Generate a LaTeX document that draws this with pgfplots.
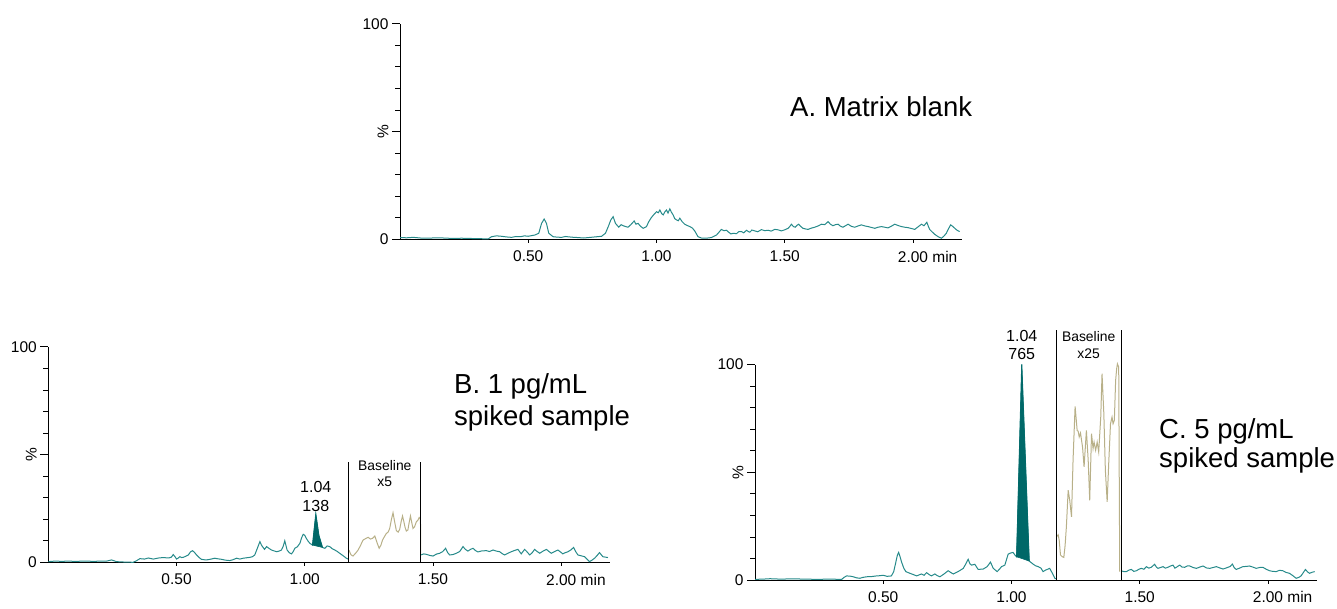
\documentclass[border=0pt]{standalone}
\usepackage{graphicx}
\usepackage{fontspec}
\setmainfont{Liberation Sans}
\usepackage{pgfplots}
\pgfplotsset{compat=1.18}
\definecolor{trace}{RGB}{38,138,138}
\definecolor{peakfill}{RGB}{0,104,104}
\definecolor{olive}{RGB}{184,176,136}
\pgfplotsset{
  chrom/.style={
    scale only axis, width=561.7pt, height=215.5pt,
    anchor=south west,
    xmin=0, xmax=2.19, ymin=0, ymax=100,
    axis lines=left, axis line style={-, black, line width=0.9pt},
    clip=false,
    tick align=outside,
    major tick length=8pt, minor tick length=5pt,
    tick style={black, line width=0.8pt},
    major x tick style={draw=none},
    ytick={0,50,100},
    minor ytick={10,20,30,40,60,70,80,90},
    yticklabels={0,\rotatebox{90}{\%}\hspace{9pt},100},
    xtick={0.5,1,1.5,2},
    xticklabels={0.50,1.00,1.50,2.00\rlap{ min}},
    ticklabel style={font=\fontsize{15.5}{18}\selectfont},
    every axis plot/.append style={line width=1pt},
  },
}
\newcommand{\xtickmarks}{\pgfplotsinvokeforeach{0.5,1,1.5,2}{\draw[black, line width=0.8pt] (axis cs:##1,0) -- ([yshift=-4pt]axis cs:##1,0);}}
\begin{document}
\begin{tikzpicture}
\useasboundingbox (0pt,0pt) rectangle (1337pt,608pt);
% ---------------- Panel A ----------------
\begin{axis}[chrom, at={(400pt,368.7pt)}]
\addplot[trace] coordinates {
(0,0.8)(0.026,0.7)(0.052,0.9)(0.08,0.6)(0.11,0.5)(0.14,0.7)(0.17,0.6)(0.205,0.4)(0.24,0.5)(0.27,0.4)(0.30,0.3)(0.344,0.2)(0.357,1.2)(0.376,1.6)(0.396,1.4)(0.415,1.1)(0.435,0.9)(0.452,1.3)(0.47,1.2)(0.485,1.6)(0.50,1.4)(0.526,2.0)(0.541,2.8)(0.552,7.4)(0.562,9.4)(0.571,7.4)(0.580,2.8)(0.597,1.2)(0.613,1.0)(0.630,0.9)(0.645,1.3)(0.66,1.1)(0.678,0.9)(0.695,0.8)(0.715,0.6)(0.734,0.8)(0.76,1.1)(0.786,1.4)(0.801,2.8)(0.812,5.9)(0.822,9.0)(0.831,10.5)(0.840,7.4)(0.853,5.6)(0.862,6.8)(0.870,6.3)(0.880,5.9)(0.889,5.6)(0.900,6.8)(0.913,8.5)(0.920,7.0)(0.928,7.4)(0.938,6.0)(0.948,5.1)(0.961,5.9)(0.970,8.2)(0.980,10.1)(0.990,11.5)(1.000,12.8)(1.007,12.3)(1.013,13.6)(1.020,12.0)(1.026,11.3)(1.033,12.8)(1.039,13.6)(1.045,12.2)(1.052,14.1)(1.058,12.6)(1.065,11.3)(1.071,9.6)(1.078,9.0)(1.085,8.6)(1.091,9.8)(1.100,8.2)(1.110,7.0)(1.120,6.4)(1.130,5.9)(1.140,5.2)(1.149,3.9)(1.162,1.2)(1.175,0.6)(1.188,0.5)(1.200,0.6)(1.214,0.8)(1.234,2.0)(1.243,3.2)(1.253,4.6)(1.263,4.0)(1.273,4.2)(1.280,3.4)(1.290,2.5)(1.300,2.8)(1.312,2.6)(1.320,3.5)(1.331,3.6)(1.340,3.0)(1.351,4.2)(1.358,3.6)(1.364,3.3)(1.372,4.3)(1.383,3.9)(1.395,3.5)(1.409,4.5)(1.422,4.0)(1.435,4.2)(1.447,3.8)(1.461,4.6)(1.474,4.4)(1.487,3.9)(1.500,4.4)(1.513,5.1)(1.520,6.0)(1.526,7.0)(1.534,5.9)(1.541,5.6)(1.548,6.5)(1.554,7.0)(1.562,6.0)(1.571,5.1)(1.581,4.8)(1.591,4.6)(1.604,5.2)(1.617,5.6)(1.630,6.2)(1.643,7.0)(1.656,6.8)(1.669,8.2)(1.678,7.0)(1.688,6.3)(1.698,6.8)(1.708,7.0)(1.717,6.1)(1.727,5.6)(1.737,6.3)(1.747,7.0)(1.760,6.0)(1.773,5.6)(1.786,6.2)(1.799,6.7)(1.812,6.2)(1.825,5.9)(1.838,5.5)(1.851,5.1)(1.864,5.6)(1.877,5.9)(1.890,5.6)(1.903,5.3)(1.916,6.1)(1.929,7.0)(1.942,6.4)(1.955,5.9)(1.968,5.6)(1.981,5.4)(1.994,5.0)(2.007,4.6)(2.020,5.8)(2.033,7.0)(2.043,6.3)(2.054,7.9)(2.060,6.0)(2.065,4.6)(2.075,3.4)(2.085,2.3)(2.098,1.2)(2.111,0.5)(2.120,1.4)(2.130,2.8)(2.138,4.8)(2.147,6.7)(2.155,6.0)(2.163,5.1)(2.172,4.2)(2.182,3.6)
};
\xtickmarks
\end{axis}
\node[anchor=base west, inner sep=0pt, font=\fontsize{27.5}{33}\selectfont] at (790pt,491.3pt) {A. Matrix blank};
% ---------------- Panel B ----------------
\begin{axis}[chrom, at={(48.3pt,45.7pt)}]
\addplot[trace] coordinates {
(0,0.3)(0.02,0.5)(0.04,0.5)(0.056,0.4)(0.072,0.6)(0.09,0.5)(0.11,0.4)(0.135,0.6)(0.162,0.5)(0.18,0.4)(0.20,0.6)(0.225,0.5)(0.247,1.1)(0.266,0.3)(0.30,0.1)(0.331,0)(0.345,0.8)(0.357,1.7)(0.375,1.5)(0.390,2.0)(0.409,1.5)(0.430,2.0)(0.448,2.2)(0.470,2.0)(0.480,2.4)(0.487,3.6)(0.494,2.6)(0.500,1.5)(0.507,2.0)(0.513,2.6)(0.520,2.2)(0.526,2.3)(0.536,2.8)(0.546,3.4)(0.554,4.8)(0.562,5.4)(0.570,4.6)(0.578,3.4)(0.588,2.2)(0.597,1.4)(0.607,1.2)(0.617,1.1)(0.635,1.5)(0.649,1.9)(0.662,1.6)(0.675,1.4)(0.690,1.0)(0.708,0.8)(0.720,1.2)(0.734,1.9)(0.747,1.5)(0.760,1.9)(0.773,2.1)(0.786,2.3)(0.796,2.6)(0.805,3.4)(0.815,6.5)(0.825,9.6)(0.831,8.0)(0.835,7.3)(0.843,6.0)(0.851,7.3)(0.860,6.5)(0.870,5.7)(0.880,5.3)(0.890,4.9)(0.900,5.2)(0.909,5.7)(0.916,7.5)(0.922,10.0)(0.927,7.6)(0.931,5.7)(0.940,4.4)(0.948,3.9)(0.955,5.0)(0.961,6.5)(0.971,7.2)(0.981,8.8)(0.988,11.5)(0.994,13.0)(1.000,12.5)(1.006,11.1)(1.013,9.8)(1.020,8.8)(1.030,8.0)(1.043,22.4)(1.055,12.5)(1.069,6.9)(1.078,6.5)(1.087,7.6)(1.097,7.3)(1.107,6.3)(1.117,5.7)(1.127,5.0)(1.136,4.2)(1.150,3.0)(1.162,1.9)(1.171,1.4)
};
\addplot[olive] coordinates {
(1.172,5.7)(1.180,3.5)(1.188,2.9)(1.198,4.2)(1.208,5.7)(1.218,8.0)(1.227,10.3)(1.237,11.0)(1.247,11.6)(1.256,10.8)(1.264,11.1)(1.273,12.2)(1.282,9.0)(1.290,6.5)(1.297,8.0)(1.303,10.3)(1.310,11.8)(1.318,13.4)(1.325,14.0)(1.331,15.7)(1.338,20.0)(1.344,23.0)(1.350,19.0)(1.357,14.7)(1.364,14.0)(1.370,15.3)(1.376,19.0)(1.381,21.5)(1.386,19.0)(1.391,16.2)(1.396,14.5)(1.402,15.0)(1.407,18.5)(1.412,21.5)(1.417,18.5)(1.422,15.7)(1.428,16.5)(1.435,18.8)(1.441,19.5)(1.446,20.8)(1.451,20.0)(1.452,3.4)
};
\addplot[trace] coordinates {
(1.452,3.4)(1.464,3.9)(1.474,3.7)(1.487,3.2)(1.500,2.9)(1.513,3.8)(1.526,4.2)(1.538,5.0)(1.549,6.5)(1.557,4.5)(1.565,3.4)(1.578,3.6)(1.591,4.2)(1.604,5.0)(1.617,7.3)(1.626,6.0)(1.636,5.2)(1.646,6.0)(1.656,6.5)(1.665,5.5)(1.675,4.8)(1.690,5.3)(1.708,5.4)(1.720,5.0)(1.734,5.7)(1.747,5.2)(1.760,4.9)(1.770,4.0)(1.779,3.4)(1.792,4.2)(1.805,4.9)(1.818,5.5)(1.831,6.0)(1.844,3.9)(1.857,6.0)(1.867,4.8)(1.877,3.4)(1.887,4.5)(1.896,6.0)(1.906,5.0)(1.916,4.2)(1.929,5.2)(1.942,6.0)(1.952,5.0)(1.961,4.2)(1.974,5.0)(1.987,5.7)(1.997,4.8)(2.006,3.9)(2.016,4.5)(2.026,4.9)(2.038,5.8)(2.048,6.9)(2.056,5.0)(2.065,3.4)(2.078,3.0)(2.091,2.6)(2.100,1.5)(2.110,0.3)(2.120,1.0)(2.130,1.9)(2.140,3.2)(2.149,4.5)(2.156,3.5)(2.162,2.6)(2.172,2.4)(2.182,2.2)
};
\addplot[draw=peakfill, fill=peakfill, line width=0.6pt] coordinates {(1.030,8.0)(1.043,22.4)(1.055,12.5)(1.069,6.9)} -- cycle;
\draw[black, line width=0.9pt] (axis cs:1.172,0) -- (axis cs:1.172,46.6);
\draw[black, line width=0.9pt] (axis cs:1.452,0) -- (axis cs:1.452,46.6);
\node[anchor=base, inner sep=0pt, font=\fontsize{13.9}{16}\selectfont] at (axis cs:1.312,42.7) {Baseline};
\node[anchor=base, inner sep=0pt, font=\fontsize{13.9}{16}\selectfont] at (axis cs:1.312,35.0) {x5};
\node[anchor=base, inner sep=0pt, font=\fontsize{16}{19}\selectfont] at (axis cs:1.043,32.4) {1.04};
\node[anchor=base, inner sep=0pt, font=\fontsize{16}{19}\selectfont] at (axis cs:1.043,23.8) {138};
\xtickmarks
\end{axis}
\node[anchor=base west, inner sep=0pt, font=\fontsize{27.5}{33}\selectfont] at (454pt,214.7pt) {B. 1 pg/mL};
\node[anchor=base west, inner sep=0pt, font=\fontsize{27.5}{33}\selectfont] at (454pt,183pt) {spiked sample};
% ---------------- Panel C ----------------
\begin{axis}[chrom, at={(755pt,28pt)}]
\addplot[trace] coordinates {
(0,0.3)(0.03,0.4)(0.059,0.6)(0.08,0.5)(0.10,0.4)(0.13,0.5)(0.162,0.5)(0.20,0.4)(0.240,0.3)(0.29,0.4)(0.338,0.3)(0.347,1.2)(0.357,1.9)(0.370,1.8)(0.383,1.5)(0.396,1.0)(0.409,0.8)(0.420,1.2)(0.435,1.5)(0.455,1.6)(0.474,1.9)(0.487,2.0)(0.500,2.2)(0.515,1.7)(0.532,1.9)(0.541,4.0)(0.548,7.7)(0.555,11.5)(0.560,12.8)(0.565,11.0)(0.571,8.5)(0.580,5.5)(0.588,3.9)(0.604,3.1)(0.618,2.5)(0.630,1.9)(0.649,2.8)(0.659,2.2)(0.669,3.4)(0.679,2.5)(0.688,1.9)(0.701,2.8)(0.711,2.0)(0.721,1.5)(0.737,2.8)(0.753,4.3)(0.763,3.5)(0.773,2.8)(0.792,3.9)(0.812,5.4)(0.822,7.5)(0.831,9.6)(0.838,7.5)(0.844,6.9)(0.857,7.3)(0.870,4.9)(0.880,5.0)(0.890,5.1)(0.905,6.2)(0.918,8.3)(0.929,5.4)(0.944,3.9)(0.953,5.0)(0.961,6.2)(0.974,6.9)(0.987,12.0)(0.996,12.5)(1.006,12.8)(1.014,11.5)(1.020,10.8)(1.040,100)(1.069,8.8)(1.084,7.4)(1.094,6.6)(1.104,6.2)(1.115,5.5)(1.123,3.9)(1.133,4.6)(1.149,5.4)(1.160,3.0)(1.169,0.8)(1.175,0.5)
};
\addplot[olive] coordinates {
(1.176,20.1)(1.182,21.0)(1.186,18.5)(1.191,11.6)(1.198,10.8)(1.204,10.5)(1.209,16.0)(1.214,24.7)(1.221,41.7)(1.227,37.0)(1.234,29.3)(1.240,55.6)(1.248,80.6)(1.256,69.4)(1.260,69.0)(1.264,66.4)(1.269,68.2)(1.277,61.7)(1.283,52.5)(1.292,69.4)(1.299,55.6)(1.305,37.0)(1.312,67.9)(1.318,61.0)(1.322,64.0)(1.328,60.2)(1.334,64.0)(1.340,59.4)(1.348,75.6)(1.353,95.7)(1.360,77.2)(1.366,50.9)(1.373,36.3)(1.379,54.0)(1.386,72.5)(1.392,75.6)(1.396,72.5)(1.401,74.1)(1.406,92.6)(1.410,98.0)(1.413,100.3)(1.418,98.8)(1.420,50)(1.422,3.9)
};
\addplot[trace] coordinates {
(1.427,4.3)(1.438,3.9)(1.448,3.9)(1.458,4.6)(1.467,4.9)(1.477,4.0)(1.487,4.3)(1.497,5.0)(1.506,5.4)(1.516,5.0)(1.526,6.2)(1.535,5.5)(1.545,5.9)(1.558,7.3)(1.565,6.0)(1.571,5.4)(1.581,5.8)(1.591,6.2)(1.600,5.5)(1.610,5.9)(1.620,6.5)(1.630,6.9)(1.637,5.5)(1.643,5.9)(1.650,6.5)(1.656,6.9)(1.665,6.0)(1.675,5.9)(1.685,6.5)(1.695,6.5)(1.708,5.8)(1.721,5.4)(1.734,6.0)(1.747,6.5)(1.760,5.6)(1.773,5.4)(1.786,5.8)(1.799,6.2)(1.812,5.6)(1.825,5.1)(1.835,5.5)(1.844,5.9)(1.853,6.3)(1.861,7.4)(1.868,5.8)(1.876,4.9)(1.889,5.5)(1.902,6.2)(1.915,6.3)(1.928,6.5)(1.941,6.0)(1.954,5.4)(1.967,5.8)(1.980,5.9)(1.993,5.0)(2.006,4.3)(2.019,4.0)(2.032,3.9)(2.045,4.5)(2.058,4.3)(2.071,3.5)(2.084,3.1)(2.097,2.0)(2.110,0.8)(2.120,1.2)(2.129,1.9)(2.138,3.5)(2.146,4.9)(2.154,3.8)(2.162,3.1)(2.172,3.6)(2.182,3.9)
};
\addplot[draw=peakfill, fill=peakfill, line width=0.6pt] coordinates {(1.0195,10.8)(1.0401,100)(1.0693,8.8)} -- cycle;
\draw[black, line width=0.9pt] (axis cs:1.175,0) -- (axis cs:1.175,116.1);
\draw[black, line width=0.9pt] (axis cs:1.427,0) -- (axis cs:1.427,116.1);
\node[anchor=base, inner sep=0pt, font=\fontsize{13.9}{16}\selectfont] at (axis cs:1.301,110.8) {Baseline};
\node[anchor=base, inner sep=0pt, font=\fontsize{13.9}{16}\selectfont] at (axis cs:1.301,102.6) {x25};
\node[anchor=base, inner sep=0pt, font=\fontsize{16}{19}\selectfont] at (axis cs:1.040,110.8) {1.04};
\node[anchor=base, inner sep=0pt, font=\fontsize{16}{19}\selectfont] at (axis cs:1.040,102.2) {765};
\xtickmarks
\end{axis}
\node[anchor=base west, inner sep=0pt, font=\fontsize{27.5}{33}\selectfont] at (1159pt,170pt) {C. 5 pg/mL};
\node[anchor=base west, inner sep=0pt, font=\fontsize{27.5}{33}\selectfont] at (1159pt,141pt) {spiked sample};
\end{tikzpicture}
\end{document}
